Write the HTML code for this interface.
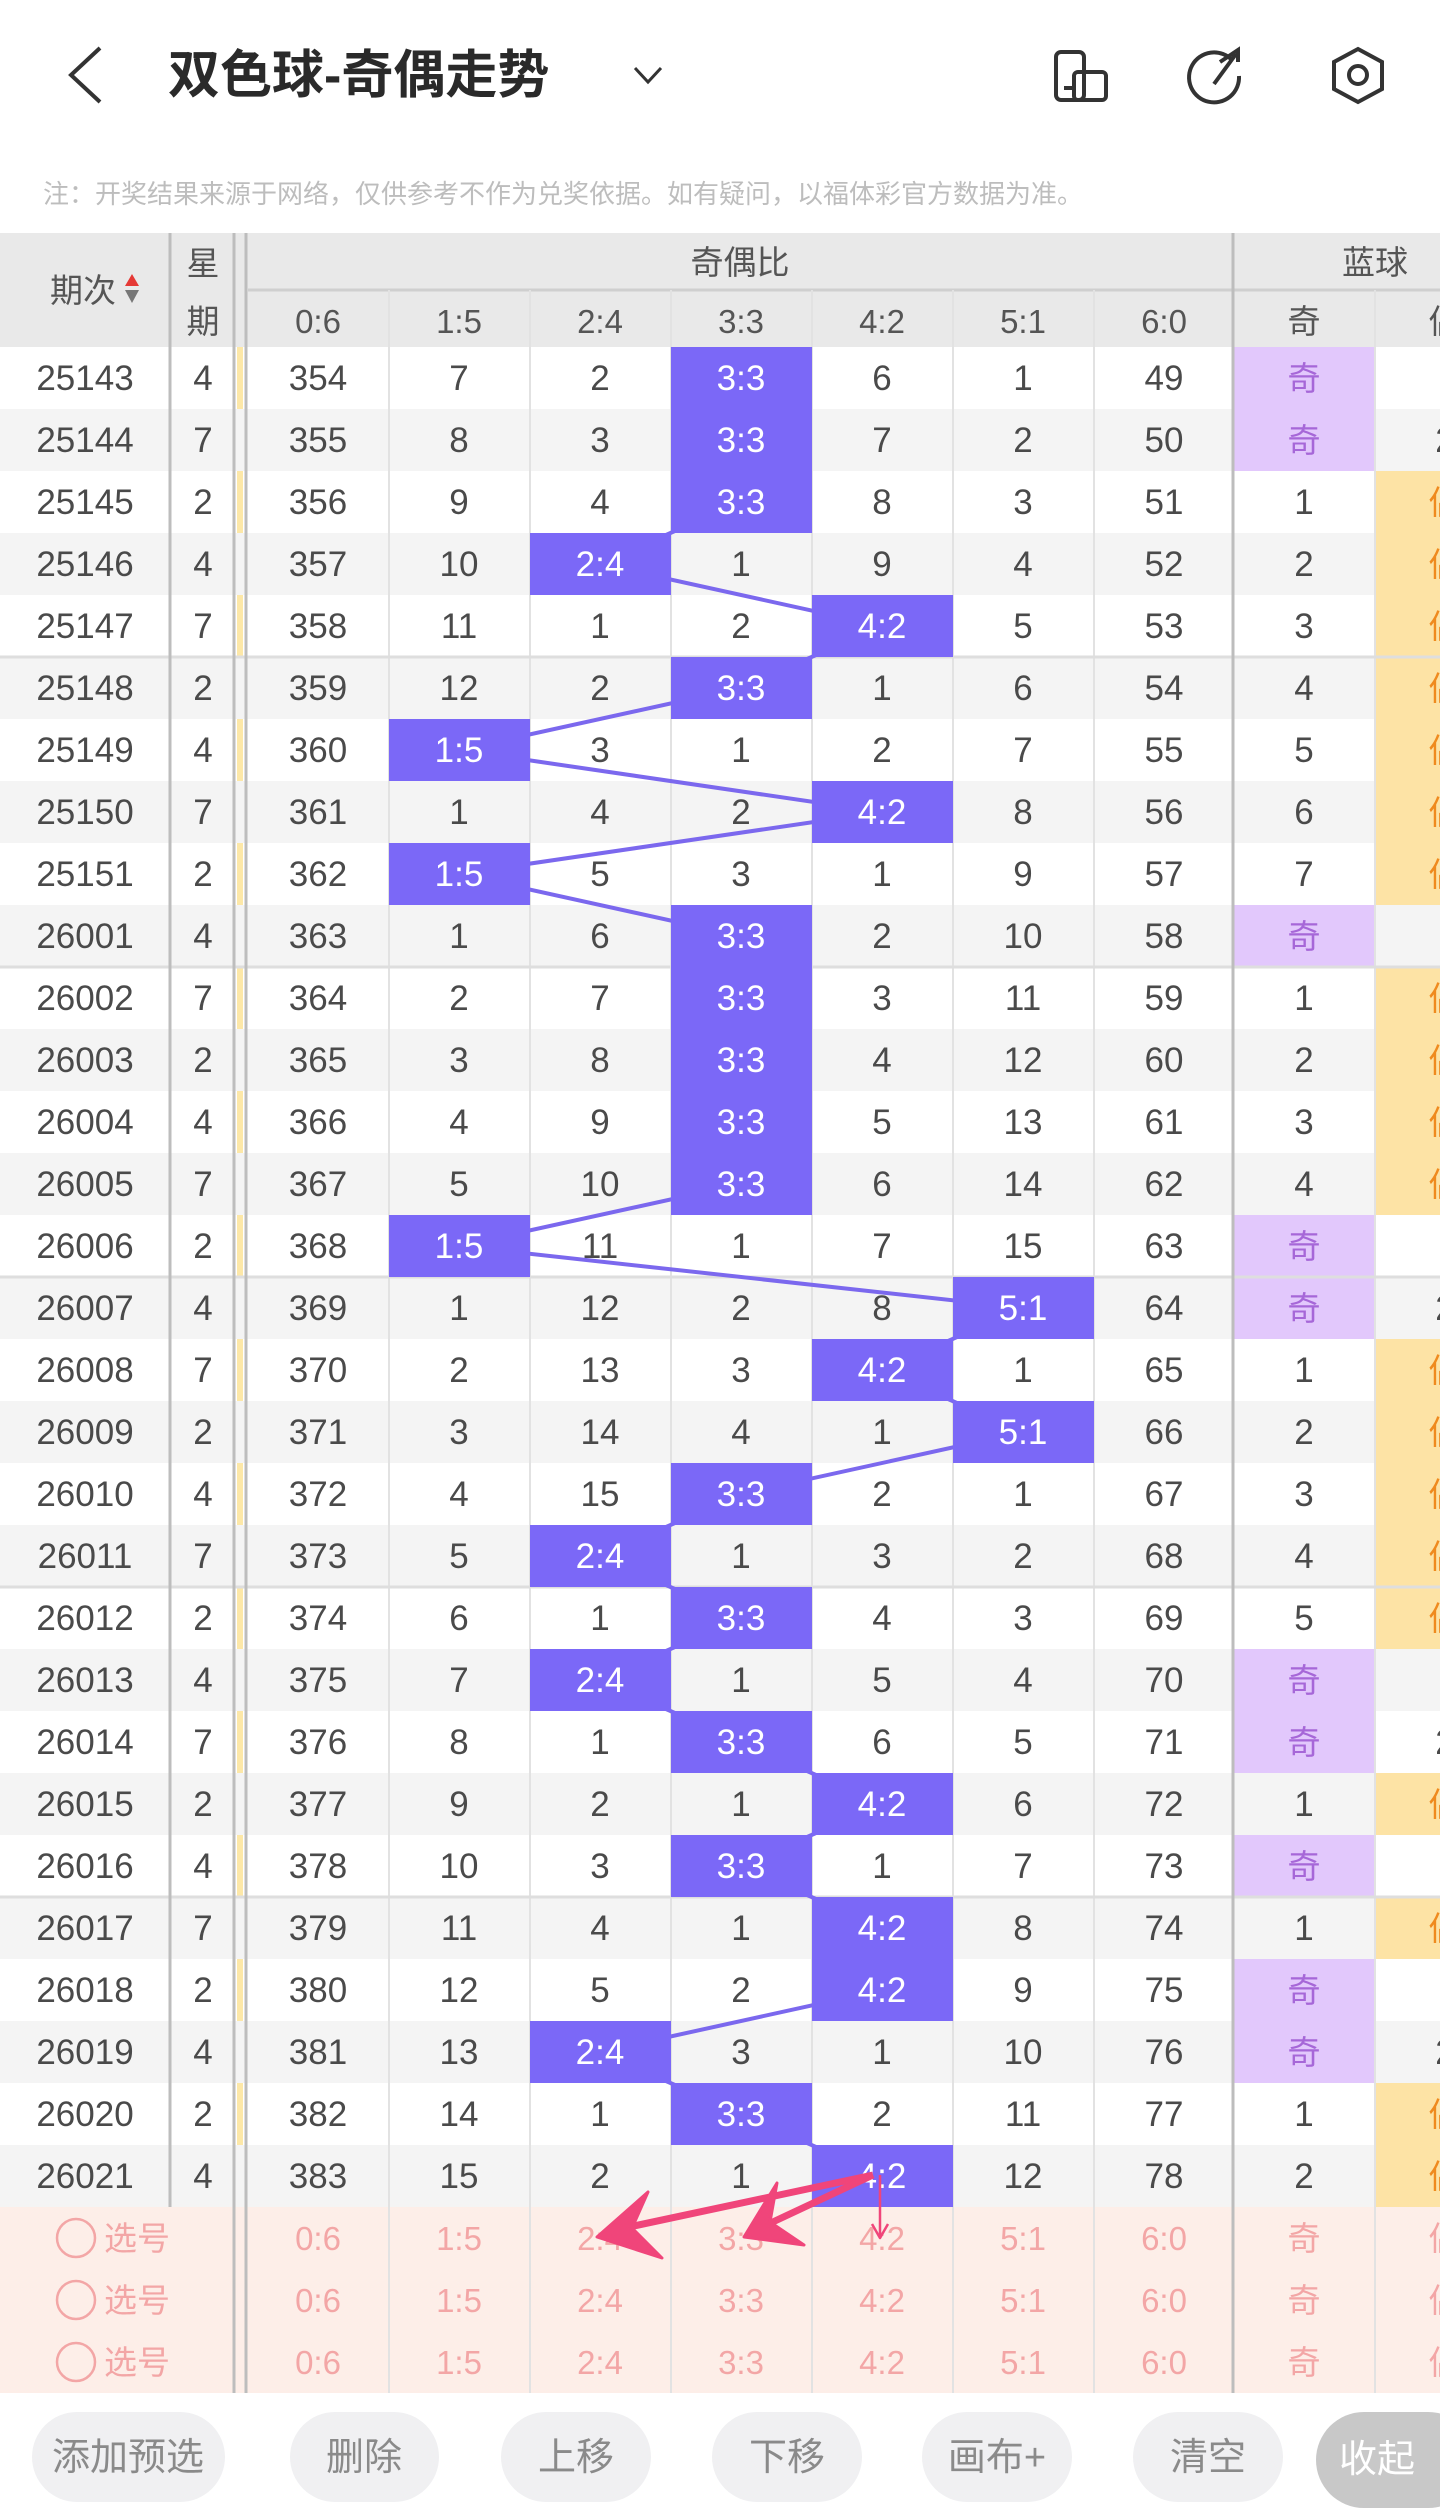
<!DOCTYPE html>
<html><head><meta charset="utf-8"><style>
html,body{margin:0;padding:0;background:#fff;}
svg{display:block;}
text{font-family:"Liberation Sans","Noto Sans CJK SC",sans-serif;}
.n{font-size:35px;fill:#4a4a4a;text-anchor:middle;}
.h{font-size:35px;fill:#fff;text-anchor:middle;}
.hd{font-size:33px;fill:#555;text-anchor:middle;}
.q{font-size:33px;fill:#a667d8;text-anchor:middle;}
.o{font-size:33px;fill:#ef8a1e;text-anchor:middle;}
.p{font-size:33px;fill:#f3a6a6;text-anchor:middle;}
.b{font-size:38px;fill:#8a8a8a;text-anchor:middle;}
</style></head><body>
<svg width="1440" height="2516" viewBox="0 0 1440 2516" xmlns="http://www.w3.org/2000/svg">
<rect width="1440" height="2516" fill="#fff"/>
<!-- top bar -->
<polyline points="100,48 71,75 100,102" fill="none" stroke="#333" stroke-width="4"/>
<text x="168" y="93" style="font-size:52px;font-weight:bold;fill:#2a2a2a;">双色球-奇偶走势</text>
<polyline points="635,68 648,82 661,68" fill="none" stroke="#333" stroke-width="3"/>
<rect x="1056" y="52" width="28" height="48" rx="5" fill="none" stroke="#333" stroke-width="4"/>
<rect x="1074" y="72" width="32" height="28" rx="4" fill="none" stroke="#333" stroke-width="4"/>
<line x1="1064" y1="88" x2="1072" y2="88" stroke="#333" stroke-width="4"/>
<path d="M1232,60 A25,25 0 1 0 1239,76" fill="none" stroke="#333" stroke-width="4"/>
<polyline points="1220,62 1238,50 1238,62" fill="none" stroke="#333" stroke-width="4"/>
<line x1="1214" y1="84" x2="1236" y2="54" stroke="#333" stroke-width="4"/>
<polygon points="1358,49 1382,62 1382,89 1358,102 1334,89 1334,62" fill="none" stroke="#333" stroke-width="4"/>
<circle cx="1358" cy="75" r="9" fill="none" stroke="#333" stroke-width="4"/>
<text x="43" y="203" style="font-size:26px;fill:#bdbdbd;">注：开奖结果来源于网络，仅供参考不作为兑奖依据。如有疑问，以福体彩官方数据为准。</text>
<!-- header -->
<rect x="0" y="233" width="1440" height="114" fill="#e9e9e9"/>
<line x1="248" y1="290" x2="1440" y2="290" stroke="#cfcfcf" stroke-width="3"/>
<text class="hd" x="83" y="302">期次</text>
<polygon points="132,274 139,286 125,286" fill="#e53935"/>
<polygon points="125,290 139,290 132,303" fill="#777"/>
<text class="hd" x="203" y="275">星</text>
<text class="hd" x="203" y="333">期</text>
<text class="hd" x="740" y="274">奇偶比</text>
<text class="hd" x="1375" y="274">蓝球</text>
<text class="hd" x="318" y="333">0:6</text><text class="hd" x="459" y="333">1:5</text><text class="hd" x="600" y="333">2:4</text><text class="hd" x="741" y="333">3:3</text><text class="hd" x="882" y="333">4:2</text><text class="hd" x="1023" y="333">5:1</text><text class="hd" x="1164" y="333">6:0</text><text class="hd" x="1304" y="333">奇</text><text class="hd" x="1445" y="333">偶</text>

<!-- rows -->
<g transform="translate(0,347)"><rect width="1440" height="62" fill="#fff"/><rect x="237" width="6" height="62" fill="#fde8a8"/><text class="n" x="85" y="43">25143</text><text class="n" x="203" y="43">4</text><text class="n" x="318" y="43">354</text><text class="n" x="459" y="43">7</text><text class="n" x="600" y="43">2</text><text class="n" x="882" y="43">6</text><text class="n" x="1023" y="43">1</text><text class="n" x="1164" y="43">49</text><rect x="1234" width="140" height="62" fill="#e2c8fc"/><text class="q" x="1304" y="43">奇</text></g>
<g transform="translate(0,409)"><rect width="1440" height="62" fill="#f4f4f4"/><text class="n" x="85" y="43">25144</text><text class="n" x="203" y="43">7</text><text class="n" x="318" y="43">355</text><text class="n" x="459" y="43">8</text><text class="n" x="600" y="43">3</text><text class="n" x="882" y="43">7</text><text class="n" x="1023" y="43">2</text><text class="n" x="1164" y="43">50</text><rect x="1234" width="140" height="62" fill="#e2c8fc"/><text class="q" x="1304" y="43">奇</text><text class="n" x="1445" y="43">2</text></g>
<g transform="translate(0,471)"><rect width="1440" height="62" fill="#fff"/><rect x="237" width="6" height="62" fill="#fde8a8"/><text class="n" x="85" y="43">25145</text><text class="n" x="203" y="43">2</text><text class="n" x="318" y="43">356</text><text class="n" x="459" y="43">9</text><text class="n" x="600" y="43">4</text><text class="n" x="882" y="43">8</text><text class="n" x="1023" y="43">3</text><text class="n" x="1164" y="43">51</text><text class="n" x="1304" y="43">1</text><rect x="1376" width="64" height="62" fill="#fde3a5"/><text class="o" x="1445" y="43">偶</text></g>
<g transform="translate(0,533)"><rect width="1440" height="62" fill="#f4f4f4"/><text class="n" x="85" y="43">25146</text><text class="n" x="203" y="43">4</text><text class="n" x="318" y="43">357</text><text class="n" x="459" y="43">10</text><text class="n" x="741" y="43">1</text><text class="n" x="882" y="43">9</text><text class="n" x="1023" y="43">4</text><text class="n" x="1164" y="43">52</text><text class="n" x="1304" y="43">2</text><rect x="1376" width="64" height="62" fill="#fde3a5"/><text class="o" x="1445" y="43">偶</text></g>
<g transform="translate(0,595)"><rect width="1440" height="62" fill="#fff"/><rect x="237" width="6" height="62" fill="#fde8a8"/><text class="n" x="85" y="43">25147</text><text class="n" x="203" y="43">7</text><text class="n" x="318" y="43">358</text><text class="n" x="459" y="43">11</text><text class="n" x="600" y="43">1</text><text class="n" x="741" y="43">2</text><text class="n" x="1023" y="43">5</text><text class="n" x="1164" y="43">53</text><text class="n" x="1304" y="43">3</text><rect x="1376" width="64" height="62" fill="#fde3a5"/><text class="o" x="1445" y="43">偶</text></g>
<g transform="translate(0,657)"><rect width="1440" height="62" fill="#f4f4f4"/><text class="n" x="85" y="43">25148</text><text class="n" x="203" y="43">2</text><text class="n" x="318" y="43">359</text><text class="n" x="459" y="43">12</text><text class="n" x="600" y="43">2</text><text class="n" x="882" y="43">1</text><text class="n" x="1023" y="43">6</text><text class="n" x="1164" y="43">54</text><text class="n" x="1304" y="43">4</text><rect x="1376" width="64" height="62" fill="#fde3a5"/><text class="o" x="1445" y="43">偶</text></g>
<g transform="translate(0,719)"><rect width="1440" height="62" fill="#fff"/><rect x="237" width="6" height="62" fill="#fde8a8"/><text class="n" x="85" y="43">25149</text><text class="n" x="203" y="43">4</text><text class="n" x="318" y="43">360</text><text class="n" x="600" y="43">3</text><text class="n" x="741" y="43">1</text><text class="n" x="882" y="43">2</text><text class="n" x="1023" y="43">7</text><text class="n" x="1164" y="43">55</text><text class="n" x="1304" y="43">5</text><rect x="1376" width="64" height="62" fill="#fde3a5"/><text class="o" x="1445" y="43">偶</text></g>
<g transform="translate(0,781)"><rect width="1440" height="62" fill="#f4f4f4"/><text class="n" x="85" y="43">25150</text><text class="n" x="203" y="43">7</text><text class="n" x="318" y="43">361</text><text class="n" x="459" y="43">1</text><text class="n" x="600" y="43">4</text><text class="n" x="741" y="43">2</text><text class="n" x="1023" y="43">8</text><text class="n" x="1164" y="43">56</text><text class="n" x="1304" y="43">6</text><rect x="1376" width="64" height="62" fill="#fde3a5"/><text class="o" x="1445" y="43">偶</text></g>
<g transform="translate(0,843)"><rect width="1440" height="62" fill="#fff"/><rect x="237" width="6" height="62" fill="#fde8a8"/><text class="n" x="85" y="43">25151</text><text class="n" x="203" y="43">2</text><text class="n" x="318" y="43">362</text><text class="n" x="600" y="43">5</text><text class="n" x="741" y="43">3</text><text class="n" x="882" y="43">1</text><text class="n" x="1023" y="43">9</text><text class="n" x="1164" y="43">57</text><text class="n" x="1304" y="43">7</text><rect x="1376" width="64" height="62" fill="#fde3a5"/><text class="o" x="1445" y="43">偶</text></g>
<g transform="translate(0,905)"><rect width="1440" height="62" fill="#f4f4f4"/><text class="n" x="85" y="43">26001</text><text class="n" x="203" y="43">4</text><text class="n" x="318" y="43">363</text><text class="n" x="459" y="43">1</text><text class="n" x="600" y="43">6</text><text class="n" x="882" y="43">2</text><text class="n" x="1023" y="43">10</text><text class="n" x="1164" y="43">58</text><rect x="1234" width="140" height="62" fill="#e2c8fc"/><text class="q" x="1304" y="43">奇</text></g>
<g transform="translate(0,967)"><rect width="1440" height="62" fill="#fff"/><rect x="237" width="6" height="62" fill="#fde8a8"/><text class="n" x="85" y="43">26002</text><text class="n" x="203" y="43">7</text><text class="n" x="318" y="43">364</text><text class="n" x="459" y="43">2</text><text class="n" x="600" y="43">7</text><text class="n" x="882" y="43">3</text><text class="n" x="1023" y="43">11</text><text class="n" x="1164" y="43">59</text><text class="n" x="1304" y="43">1</text><rect x="1376" width="64" height="62" fill="#fde3a5"/><text class="o" x="1445" y="43">偶</text></g>
<g transform="translate(0,1029)"><rect width="1440" height="62" fill="#f4f4f4"/><text class="n" x="85" y="43">26003</text><text class="n" x="203" y="43">2</text><text class="n" x="318" y="43">365</text><text class="n" x="459" y="43">3</text><text class="n" x="600" y="43">8</text><text class="n" x="882" y="43">4</text><text class="n" x="1023" y="43">12</text><text class="n" x="1164" y="43">60</text><text class="n" x="1304" y="43">2</text><rect x="1376" width="64" height="62" fill="#fde3a5"/><text class="o" x="1445" y="43">偶</text></g>
<g transform="translate(0,1091)"><rect width="1440" height="62" fill="#fff"/><rect x="237" width="6" height="62" fill="#fde8a8"/><text class="n" x="85" y="43">26004</text><text class="n" x="203" y="43">4</text><text class="n" x="318" y="43">366</text><text class="n" x="459" y="43">4</text><text class="n" x="600" y="43">9</text><text class="n" x="882" y="43">5</text><text class="n" x="1023" y="43">13</text><text class="n" x="1164" y="43">61</text><text class="n" x="1304" y="43">3</text><rect x="1376" width="64" height="62" fill="#fde3a5"/><text class="o" x="1445" y="43">偶</text></g>
<g transform="translate(0,1153)"><rect width="1440" height="62" fill="#f4f4f4"/><text class="n" x="85" y="43">26005</text><text class="n" x="203" y="43">7</text><text class="n" x="318" y="43">367</text><text class="n" x="459" y="43">5</text><text class="n" x="600" y="43">10</text><text class="n" x="882" y="43">6</text><text class="n" x="1023" y="43">14</text><text class="n" x="1164" y="43">62</text><text class="n" x="1304" y="43">4</text><rect x="1376" width="64" height="62" fill="#fde3a5"/><text class="o" x="1445" y="43">偶</text></g>
<g transform="translate(0,1215)"><rect width="1440" height="62" fill="#fff"/><rect x="237" width="6" height="62" fill="#fde8a8"/><text class="n" x="85" y="43">26006</text><text class="n" x="203" y="43">2</text><text class="n" x="318" y="43">368</text><text class="n" x="600" y="43">11</text><text class="n" x="741" y="43">1</text><text class="n" x="882" y="43">7</text><text class="n" x="1023" y="43">15</text><text class="n" x="1164" y="43">63</text><rect x="1234" width="140" height="62" fill="#e2c8fc"/><text class="q" x="1304" y="43">奇</text></g>
<g transform="translate(0,1277)"><rect width="1440" height="62" fill="#f4f4f4"/><text class="n" x="85" y="43">26007</text><text class="n" x="203" y="43">4</text><text class="n" x="318" y="43">369</text><text class="n" x="459" y="43">1</text><text class="n" x="600" y="43">12</text><text class="n" x="741" y="43">2</text><text class="n" x="882" y="43">8</text><text class="n" x="1164" y="43">64</text><rect x="1234" width="140" height="62" fill="#e2c8fc"/><text class="q" x="1304" y="43">奇</text><text class="n" x="1445" y="43">2</text></g>
<g transform="translate(0,1339)"><rect width="1440" height="62" fill="#fff"/><rect x="237" width="6" height="62" fill="#fde8a8"/><text class="n" x="85" y="43">26008</text><text class="n" x="203" y="43">7</text><text class="n" x="318" y="43">370</text><text class="n" x="459" y="43">2</text><text class="n" x="600" y="43">13</text><text class="n" x="741" y="43">3</text><text class="n" x="1023" y="43">1</text><text class="n" x="1164" y="43">65</text><text class="n" x="1304" y="43">1</text><rect x="1376" width="64" height="62" fill="#fde3a5"/><text class="o" x="1445" y="43">偶</text></g>
<g transform="translate(0,1401)"><rect width="1440" height="62" fill="#f4f4f4"/><text class="n" x="85" y="43">26009</text><text class="n" x="203" y="43">2</text><text class="n" x="318" y="43">371</text><text class="n" x="459" y="43">3</text><text class="n" x="600" y="43">14</text><text class="n" x="741" y="43">4</text><text class="n" x="882" y="43">1</text><text class="n" x="1164" y="43">66</text><text class="n" x="1304" y="43">2</text><rect x="1376" width="64" height="62" fill="#fde3a5"/><text class="o" x="1445" y="43">偶</text></g>
<g transform="translate(0,1463)"><rect width="1440" height="62" fill="#fff"/><rect x="237" width="6" height="62" fill="#fde8a8"/><text class="n" x="85" y="43">26010</text><text class="n" x="203" y="43">4</text><text class="n" x="318" y="43">372</text><text class="n" x="459" y="43">4</text><text class="n" x="600" y="43">15</text><text class="n" x="882" y="43">2</text><text class="n" x="1023" y="43">1</text><text class="n" x="1164" y="43">67</text><text class="n" x="1304" y="43">3</text><rect x="1376" width="64" height="62" fill="#fde3a5"/><text class="o" x="1445" y="43">偶</text></g>
<g transform="translate(0,1525)"><rect width="1440" height="62" fill="#f4f4f4"/><text class="n" x="85" y="43">26011</text><text class="n" x="203" y="43">7</text><text class="n" x="318" y="43">373</text><text class="n" x="459" y="43">5</text><text class="n" x="741" y="43">1</text><text class="n" x="882" y="43">3</text><text class="n" x="1023" y="43">2</text><text class="n" x="1164" y="43">68</text><text class="n" x="1304" y="43">4</text><rect x="1376" width="64" height="62" fill="#fde3a5"/><text class="o" x="1445" y="43">偶</text></g>
<g transform="translate(0,1587)"><rect width="1440" height="62" fill="#fff"/><rect x="237" width="6" height="62" fill="#fde8a8"/><text class="n" x="85" y="43">26012</text><text class="n" x="203" y="43">2</text><text class="n" x="318" y="43">374</text><text class="n" x="459" y="43">6</text><text class="n" x="600" y="43">1</text><text class="n" x="882" y="43">4</text><text class="n" x="1023" y="43">3</text><text class="n" x="1164" y="43">69</text><text class="n" x="1304" y="43">5</text><rect x="1376" width="64" height="62" fill="#fde3a5"/><text class="o" x="1445" y="43">偶</text></g>
<g transform="translate(0,1649)"><rect width="1440" height="62" fill="#f4f4f4"/><text class="n" x="85" y="43">26013</text><text class="n" x="203" y="43">4</text><text class="n" x="318" y="43">375</text><text class="n" x="459" y="43">7</text><text class="n" x="741" y="43">1</text><text class="n" x="882" y="43">5</text><text class="n" x="1023" y="43">4</text><text class="n" x="1164" y="43">70</text><rect x="1234" width="140" height="62" fill="#e2c8fc"/><text class="q" x="1304" y="43">奇</text></g>
<g transform="translate(0,1711)"><rect width="1440" height="62" fill="#fff"/><rect x="237" width="6" height="62" fill="#fde8a8"/><text class="n" x="85" y="43">26014</text><text class="n" x="203" y="43">7</text><text class="n" x="318" y="43">376</text><text class="n" x="459" y="43">8</text><text class="n" x="600" y="43">1</text><text class="n" x="882" y="43">6</text><text class="n" x="1023" y="43">5</text><text class="n" x="1164" y="43">71</text><rect x="1234" width="140" height="62" fill="#e2c8fc"/><text class="q" x="1304" y="43">奇</text><text class="n" x="1445" y="43">2</text></g>
<g transform="translate(0,1773)"><rect width="1440" height="62" fill="#f4f4f4"/><text class="n" x="85" y="43">26015</text><text class="n" x="203" y="43">2</text><text class="n" x="318" y="43">377</text><text class="n" x="459" y="43">9</text><text class="n" x="600" y="43">2</text><text class="n" x="741" y="43">1</text><text class="n" x="1023" y="43">6</text><text class="n" x="1164" y="43">72</text><text class="n" x="1304" y="43">1</text><rect x="1376" width="64" height="62" fill="#fde3a5"/><text class="o" x="1445" y="43">偶</text></g>
<g transform="translate(0,1835)"><rect width="1440" height="62" fill="#fff"/><rect x="237" width="6" height="62" fill="#fde8a8"/><text class="n" x="85" y="43">26016</text><text class="n" x="203" y="43">4</text><text class="n" x="318" y="43">378</text><text class="n" x="459" y="43">10</text><text class="n" x="600" y="43">3</text><text class="n" x="882" y="43">1</text><text class="n" x="1023" y="43">7</text><text class="n" x="1164" y="43">73</text><rect x="1234" width="140" height="62" fill="#e2c8fc"/><text class="q" x="1304" y="43">奇</text></g>
<g transform="translate(0,1897)"><rect width="1440" height="62" fill="#f4f4f4"/><text class="n" x="85" y="43">26017</text><text class="n" x="203" y="43">7</text><text class="n" x="318" y="43">379</text><text class="n" x="459" y="43">11</text><text class="n" x="600" y="43">4</text><text class="n" x="741" y="43">1</text><text class="n" x="1023" y="43">8</text><text class="n" x="1164" y="43">74</text><text class="n" x="1304" y="43">1</text><rect x="1376" width="64" height="62" fill="#fde3a5"/><text class="o" x="1445" y="43">偶</text></g>
<g transform="translate(0,1959)"><rect width="1440" height="62" fill="#fff"/><rect x="237" width="6" height="62" fill="#fde8a8"/><text class="n" x="85" y="43">26018</text><text class="n" x="203" y="43">2</text><text class="n" x="318" y="43">380</text><text class="n" x="459" y="43">12</text><text class="n" x="600" y="43">5</text><text class="n" x="741" y="43">2</text><text class="n" x="1023" y="43">9</text><text class="n" x="1164" y="43">75</text><rect x="1234" width="140" height="62" fill="#e2c8fc"/><text class="q" x="1304" y="43">奇</text></g>
<g transform="translate(0,2021)"><rect width="1440" height="62" fill="#f4f4f4"/><text class="n" x="85" y="43">26019</text><text class="n" x="203" y="43">4</text><text class="n" x="318" y="43">381</text><text class="n" x="459" y="43">13</text><text class="n" x="741" y="43">3</text><text class="n" x="882" y="43">1</text><text class="n" x="1023" y="43">10</text><text class="n" x="1164" y="43">76</text><rect x="1234" width="140" height="62" fill="#e2c8fc"/><text class="q" x="1304" y="43">奇</text><text class="n" x="1445" y="43">2</text></g>
<g transform="translate(0,2083)"><rect width="1440" height="62" fill="#fff"/><rect x="237" width="6" height="62" fill="#fde8a8"/><text class="n" x="85" y="43">26020</text><text class="n" x="203" y="43">2</text><text class="n" x="318" y="43">382</text><text class="n" x="459" y="43">14</text><text class="n" x="600" y="43">1</text><text class="n" x="882" y="43">2</text><text class="n" x="1023" y="43">11</text><text class="n" x="1164" y="43">77</text><text class="n" x="1304" y="43">1</text><rect x="1376" width="64" height="62" fill="#fde3a5"/><text class="o" x="1445" y="43">偶</text></g>
<g transform="translate(0,2145)"><rect width="1440" height="62" fill="#f4f4f4"/><text class="n" x="85" y="43">26021</text><text class="n" x="203" y="43">4</text><text class="n" x="318" y="43">383</text><text class="n" x="459" y="43">15</text><text class="n" x="600" y="43">2</text><text class="n" x="741" y="43">1</text><text class="n" x="1023" y="43">12</text><text class="n" x="1164" y="43">78</text><text class="n" x="1304" y="43">2</text><rect x="1376" width="64" height="62" fill="#fde3a5"/><text class="o" x="1445" y="43">偶</text></g>

<!-- pick rows -->
<rect x="0" y="2207" width="1440" height="186" fill="#fdeee8"/>
<g>
<circle cx="76" cy="2238" r="19" fill="none" stroke="#f3a6a6" stroke-width="2.5"/><text class="p" x="137" y="2250">选号</text>
<circle cx="76" cy="2300" r="19" fill="none" stroke="#f3a6a6" stroke-width="2.5"/><text class="p" x="137" y="2312">选号</text>
<circle cx="76" cy="2362" r="19" fill="none" stroke="#f3a6a6" stroke-width="2.5"/><text class="p" x="137" y="2374">选号</text>
</g>
<g>
<text class="p" x="318" y="2250">0:6</text><text class="p" x="459" y="2250">1:5</text><text class="p" x="600" y="2250">2:4</text><text class="p" x="741" y="2250">3:3</text><text class="p" x="882" y="2250">4:2</text><text class="p" x="1023" y="2250">5:1</text><text class="p" x="1164" y="2250">6:0</text><text class="p" x="1304" y="2250">奇</text><text class="p" x="1445" y="2250">偶</text>
<text class="p" x="318" y="2312">0:6</text><text class="p" x="459" y="2312">1:5</text><text class="p" x="600" y="2312">2:4</text><text class="p" x="741" y="2312">3:3</text><text class="p" x="882" y="2312">4:2</text><text class="p" x="1023" y="2312">5:1</text><text class="p" x="1164" y="2312">6:0</text><text class="p" x="1304" y="2312">奇</text><text class="p" x="1445" y="2312">偶</text>
<text class="p" x="318" y="2374">0:6</text><text class="p" x="459" y="2374">1:5</text><text class="p" x="600" y="2374">2:4</text><text class="p" x="741" y="2374">3:3</text><text class="p" x="882" y="2374">4:2</text><text class="p" x="1023" y="2374">5:1</text><text class="p" x="1164" y="2374">6:0</text><text class="p" x="1304" y="2374">奇</text><text class="p" x="1445" y="2374">偶</text>
</g>

<!-- grid lines -->
<g stroke="#e2e2e2" stroke-width="2">
<line x1="389" y1="290" x2="389" y2="2393"/><line x1="530" y1="290" x2="530" y2="2393"/><line x1="671" y1="290" x2="671" y2="2393"/><line x1="812" y1="290" x2="812" y2="2393"/><line x1="953" y1="290" x2="953" y2="2393"/><line x1="1094" y1="290" x2="1094" y2="2393"/><line x1="1375" y1="290" x2="1375" y2="2393"/>
</g>
<g stroke="#dedede" stroke-width="3">
<line x1="0" y1="657" x2="1440" y2="657"/><line x1="0" y1="967" x2="1440" y2="967"/><line x1="0" y1="1277" x2="1440" y2="1277"/><line x1="0" y1="1587" x2="1440" y2="1587"/><line x1="0" y1="1897" x2="1440" y2="1897"/>
</g>
<g stroke="#bdbdbd" stroke-width="3">
<line x1="170" y1="233" x2="170" y2="2207"/>
<line x1="234" y1="233" x2="234" y2="2393"/>
<line x1="246" y1="233" x2="246" y2="2393"/>
<line x1="1233" y1="233" x2="1233" y2="2393"/>
</g>

<!-- trend line -->
<polyline fill="none" stroke="#7b68ee" stroke-width="4" points="741,378 741,440 741,502 600,564 882,626 741,688 459,750 882,812 459,874 741,936 741,998 741,1060 741,1122 741,1184 459,1246 1023,1308 882,1370 1023,1432 741,1494 600,1556 741,1618 600,1680 741,1742 882,1804 741,1866 882,1928 882,1990 600,2052 741,2114 882,2176"/>

<!-- highlight cells -->
<g fill="#7b68f7">
<rect x="671" y="347" width="141" height="186"/>
<rect x="530" y="533" width="141" height="62"/>
<rect x="812" y="595" width="141" height="62"/>
<rect x="671" y="657" width="141" height="62"/>
<rect x="389" y="719" width="141" height="62"/>
<rect x="812" y="781" width="141" height="62"/>
<rect x="389" y="843" width="141" height="62"/>
<rect x="671" y="905" width="141" height="310"/>
<rect x="389" y="1215" width="141" height="62"/>
<rect x="953" y="1277" width="141" height="62"/>
<rect x="812" y="1339" width="141" height="62"/>
<rect x="953" y="1401" width="141" height="62"/>
<rect x="671" y="1463" width="141" height="62"/>
<rect x="530" y="1525" width="141" height="62"/>
<rect x="671" y="1587" width="141" height="62"/>
<rect x="530" y="1649" width="141" height="62"/>
<rect x="671" y="1711" width="141" height="62"/>
<rect x="812" y="1773" width="141" height="62"/>
<rect x="671" y="1835" width="141" height="62"/>
<rect x="812" y="1897" width="141" height="124"/>
<rect x="530" y="2021" width="141" height="62"/>
<rect x="671" y="2083" width="141" height="62"/>
<rect x="812" y="2145" width="141" height="62"/>
</g>
<g>
<text class="h" x="741" y="390">3:3</text><text class="h" x="741" y="452">3:3</text><text class="h" x="741" y="514">3:3</text>
<text class="h" x="600" y="576">2:4</text><text class="h" x="882" y="638">4:2</text><text class="h" x="741" y="700">3:3</text>
<text class="h" x="459" y="762">1:5</text><text class="h" x="882" y="824">4:2</text><text class="h" x="459" y="886">1:5</text>
<text class="h" x="741" y="948">3:3</text><text class="h" x="741" y="1010">3:3</text><text class="h" x="741" y="1072">3:3</text><text class="h" x="741" y="1134">3:3</text><text class="h" x="741" y="1196">3:3</text>
<text class="h" x="459" y="1258">1:5</text><text class="h" x="1023" y="1320">5:1</text><text class="h" x="882" y="1382">4:2</text><text class="h" x="1023" y="1444">5:1</text>
<text class="h" x="741" y="1506">3:3</text><text class="h" x="600" y="1568">2:4</text><text class="h" x="741" y="1630">3:3</text><text class="h" x="600" y="1692">2:4</text>
<text class="h" x="741" y="1754">3:3</text><text class="h" x="882" y="1816">4:2</text><text class="h" x="741" y="1878">3:3</text><text class="h" x="882" y="1940">4:2</text>
<text class="h" x="882" y="2002">4:2</text><text class="h" x="600" y="2064">2:4</text><text class="h" x="741" y="2126">3:3</text><text class="h" x="882" y="2188">4:2</text>
</g>

<!-- pink arrows -->
<g stroke="#f0457a" fill="#f0457a" stroke-linejoin="round">
<line x1="873" y1="2175" x2="615" y2="2230" stroke-width="7"/>
<polygon points="597,2237 648,2192 632,2228 662,2258" stroke-width="3"/>
<line x1="873" y1="2175" x2="760" y2="2228" stroke-width="7"/>
<polygon points="744,2237 777,2183 770,2222 804,2245" stroke-width="3"/>
<line x1="880" y1="2175" x2="880" y2="2236" stroke-width="2.5"/>
<polyline points="872,2224 880,2238 888,2224" fill="none" stroke-width="2.5"/>
</g>

<!-- bottom buttons -->
<g fill="#f0f0f2">
<rect x="32" y="2412" width="193" height="90" rx="45"/>
<rect x="290" y="2412" width="149" height="90" rx="45"/>
<rect x="501" y="2412" width="150" height="90" rx="45"/>
<rect x="712" y="2412" width="150" height="90" rx="45"/>
<rect x="922" y="2412" width="150" height="90" rx="45"/>
<rect x="1133" y="2412" width="150" height="90" rx="45"/>
</g>
<rect x="1316" y="2412" width="160" height="96" rx="48" fill="#c8c8c8"/>
<text class="b" x="128" y="2470">添加预选</text>
<text class="b" x="364" y="2470">删除</text>
<text class="b" x="576" y="2470">上移</text>
<text class="b" x="787" y="2470">下移</text>
<text class="b" x="997" y="2470">画布+</text>
<text class="b" x="1208" y="2470">清空</text>
<text class="b" x="1377" y="2472" style="fill:#fff;">收起</text>
</svg>
</body></html>
